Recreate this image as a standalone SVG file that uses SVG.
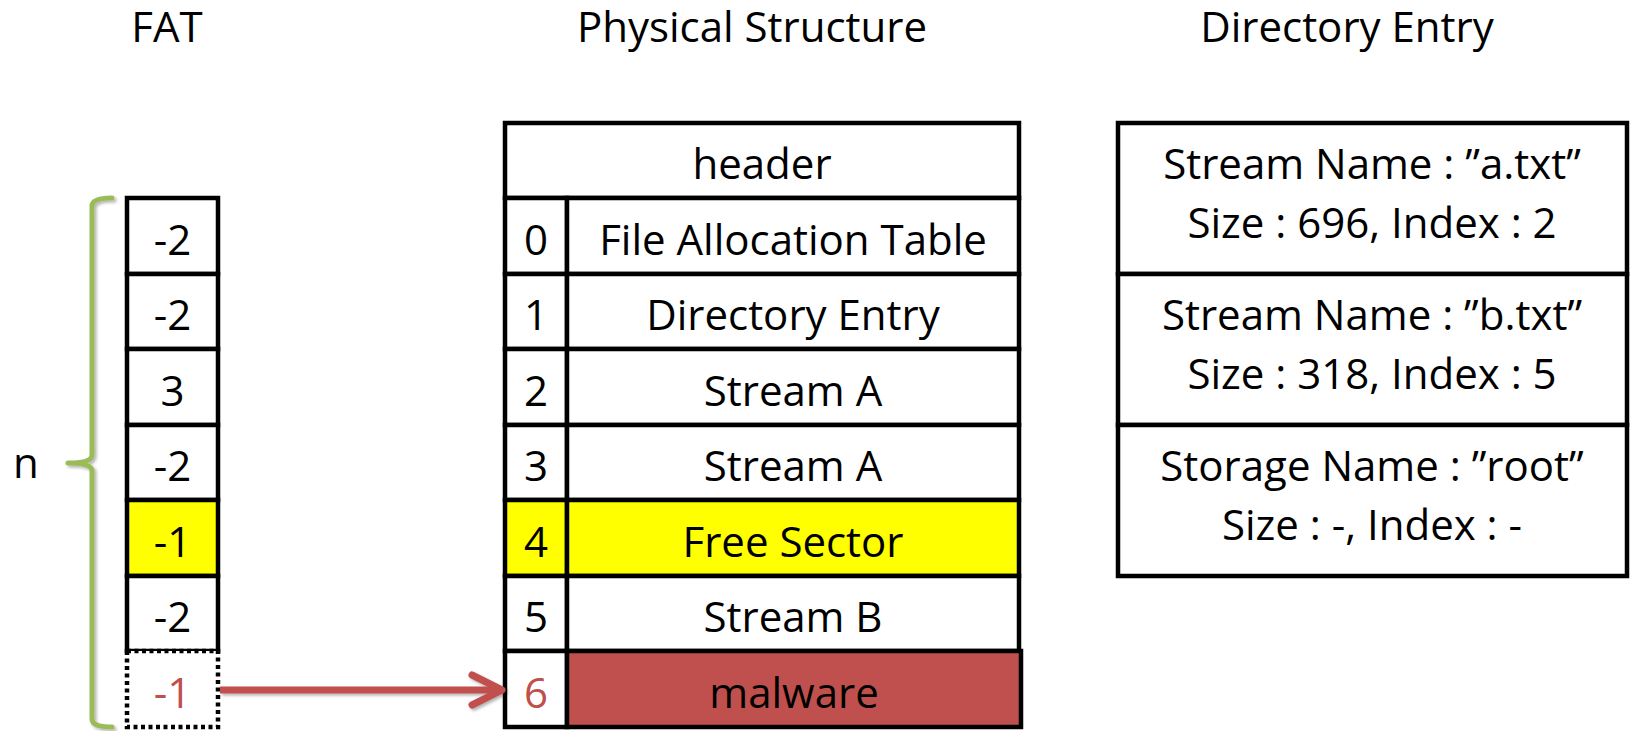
<svg xmlns="http://www.w3.org/2000/svg" width="1630" height="731" viewBox="0 0 1630 731">
<style>
text{font-family:"Open Sans","Noto Sans","Liberation Sans",sans-serif;font-size:42px;fill:#000;text-anchor:middle}
.cell{fill:#fff;stroke:#000;stroke-width:4.5}
.yel{fill:#ffff00;stroke:#000;stroke-width:4.5}
.mal{fill:#c0504d;stroke:#000;stroke-width:4.5}
.dot{fill:#fff;stroke:#000;stroke-width:4.5;stroke-dasharray:4 3.5}
.red{fill:#c0504d}
.brace{fill:none;stroke:#9bbb59;stroke-width:5;stroke-linecap:round;stroke-linejoin:round}
.conn{fill:none;stroke:#c0504d;stroke-width:7}
</style>
<defs>
<filter id="sh" filterUnits="userSpaceOnUse" x="0" y="0" width="1630" height="731">
<feDropShadow dx="2" dy="2" stdDeviation="1.5" flood-color="#000" flood-opacity="0.3"/>
</filter>
<marker id="arr" markerUnits="userSpaceOnUse" markerWidth="50" markerHeight="50" refX="36" refY="20" orient="auto" overflow="visible">
<path d="M6,5 L36,20 L6,35" fill="none" stroke="#c0504d" stroke-width="7" stroke-linecap="round" stroke-linejoin="round"/>
</marker>
</defs>
<rect width="1630" height="731" fill="#fff"/>

<g id="titles">
<text x="167" y="42">FAT</text>
<text x="752" y="42">Physical Structure</text>
<text x="1347" y="42">Directory Entry</text>
</g>

<g id="brace" filter="url(#sh)">
<path class="brace" d="M112,198 Q92,198 92,206 L92,455 Q92,463 68,463 Q92,463 92,471 L92,719 Q92,727 112,727"/>
</g>
<g id="brace-label"><text x="26" y="478">n</text></g>

<g id="fat">
<g id="fat-0"><rect class="cell" x="127" y="198" width="91" height="76"/><text x="172.5" y="255">-2</text></g>
<g id="fat-1"><rect class="cell" x="127" y="274" width="91" height="75"/><text x="172.5" y="330">-2</text></g>
<g id="fat-2"><rect class="cell" x="127" y="349" width="91" height="76"/><text x="172.5" y="406">3</text></g>
<g id="fat-3"><rect class="cell" x="127" y="425" width="91" height="75"/><text x="172.5" y="481">-2</text></g>
<g id="fat-4"><rect class="yel" x="127" y="500" width="91" height="76"/><text x="172.5" y="557">-1</text></g>
<g id="fat-5"><rect class="cell" x="127" y="576" width="91" height="75"/><text x="172.5" y="632">-2</text></g>
<g id="fat-6"><rect class="dot" x="127" y="651" width="91" height="76"/><text class="red" x="172.5" y="708">-1</text></g>
</g>

<g id="physical">
<g id="ph-header"><rect class="cell" x="505" y="123" width="514" height="75"/><text x="762" y="179">header</text></g>
<g id="ph-0"><rect class="cell" x="505" y="198" width="62" height="76"/><rect class="cell" x="567" y="198" width="452" height="76"/><text x="536" y="255">0</text><text x="793" y="255">File Allocation Table</text></g>
<g id="ph-1"><rect class="cell" x="505" y="274" width="62" height="75"/><rect class="cell" x="567" y="274" width="452" height="75"/><text x="536" y="330">1</text><text x="793" y="330">Directory Entry</text></g>
<g id="ph-2"><rect class="cell" x="505" y="349" width="62" height="76"/><rect class="cell" x="567" y="349" width="452" height="76"/><text x="536" y="406">2</text><text x="793" y="406">Stream A</text></g>
<g id="ph-3"><rect class="cell" x="505" y="425" width="62" height="75"/><rect class="cell" x="567" y="425" width="452" height="75"/><text x="536" y="481">3</text><text x="793" y="481">Stream A</text></g>
<g id="ph-4"><rect class="yel" x="505" y="500" width="62" height="76"/><rect class="yel" x="567" y="500" width="452" height="76"/><text x="536" y="557">4</text><text x="793" y="557">Free Sector</text></g>
<g id="ph-5"><rect class="cell" x="505" y="576" width="62" height="75"/><rect class="cell" x="567" y="576" width="452" height="75"/><text x="536" y="632">5</text><text x="793" y="632">Stream B</text></g>
<g id="ph-6"><rect class="cell" x="505" y="651" width="62" height="76"/><rect class="mal" x="567" y="651" width="454" height="76"/><text class="red" x="536" y="708">6</text><text x="794" y="708">malware</text></g>
</g>

<g id="directory">
<g id="dir-0"><rect class="cell" x="1118" y="123" width="509" height="151"/><text x="1372" y="179">Stream Name : ”a.txt”</text><text x="1372" y="238">Size : 696, Index : 2</text></g>
<g id="dir-1"><rect class="cell" x="1118" y="274" width="509" height="151"/><text x="1372" y="330">Stream Name : ”b.txt”</text><text x="1372" y="389">Size : 318, Index : 5</text></g>
<g id="dir-2"><rect class="cell" x="1118" y="425" width="509" height="151"/><text x="1372" y="481">Storage Name : ”root”</text><text x="1372" y="540">Size : -, Index : -</text></g>
</g>

<g id="connectors" filter="url(#sh)">
<path class="conn" d="M220,690 L502,690" marker-end="url(#arr)"/>
</g>
</svg>
